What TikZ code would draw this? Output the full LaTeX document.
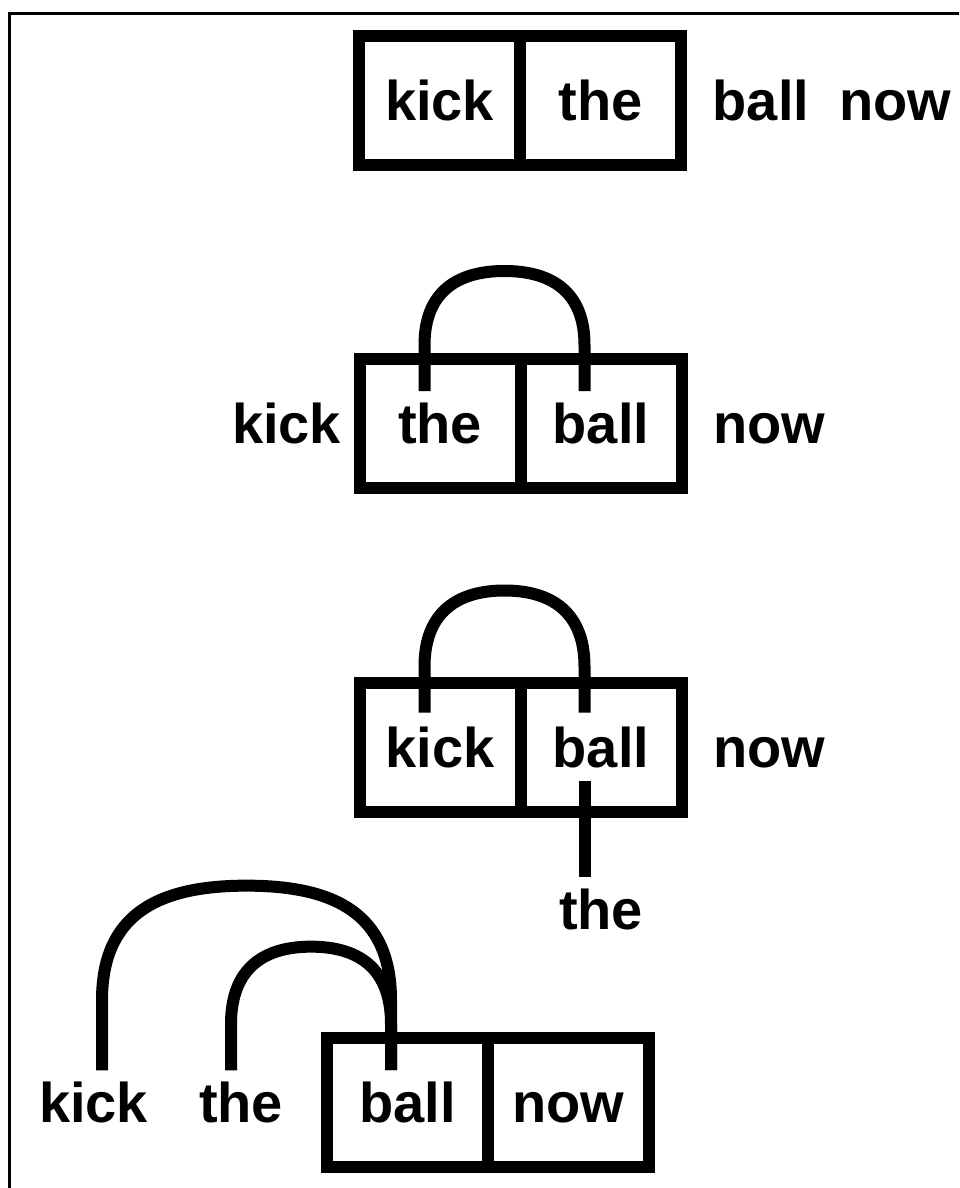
\documentclass[tikz,border=0pt]{standalone}
\usepackage{fontspec}
\setmainfont{Liberation Sans}
\usetikzlibrary{positioning,calc}

\tikzset{
    word/.style={font=\fontsize{56}{60}\selectfont\bfseries, text height=40pt, text depth=0pt, inner xsep=0pt, inner ysep=12pt},
    cell/.style={word, draw, rectangle, line width=12pt, minimum width=161pt, minimum height=129pt, inner sep=0pt, outer sep=0pt},
    link/.style={line width=12pt}
}

\begin{document}
\begin{tikzpicture}[x=1pt, y=-1pt]
    \useasboundingbox (0,0) rectangle (959,1188);
    % frame
    \draw[line width=3pt] (9.5,1188) -- (9.5,13.8) -- (959,13.8);

    % row 1
    \node (r1a) [cell] at (439.5,100.5) {kick};
    \node (r1b) [cell, right of=r1a, node distance=161pt] {the};
    \node (ball1) [word, right of=r1b, node distance=160.5pt] {ball};
    \node (now1) [word, right of=ball1, node distance=134pt] {now};

    % row 2
    \node (r2a) [cell] at (440,423.5) {the};
    \node (r2b) [cell, right of=r2a, node distance=161pt] {ball};
    \node (kick2) [word, left of=r2a, node distance=153.5pt] {kick};
    \node (now2) [word, right of=r2b, node distance=168pt] {now};
    \coordinate (s2a) at ([xshift=65pt, yshift=-32pt]r2a.north west);
    \coordinate (s2b) at ([xshift=64pt, yshift=-32pt]r2b.north west);
    \draw[link] (s2a) -- ++(0,-46) .. controls +(0,-55) and +(-45,0) .. ($(s2a)!0.5!(s2b)+(0,-120)$)
        .. controls +(45,0) and +(0,-55) .. ($(s2b)+(0,-46)$) -- (s2b);

    % row 3
    \node (r3a) [cell] at (440,747) {kick};
    \node (r3b) [cell, right of=r3a, node distance=161pt] {ball};
    \node (now3) [word, right of=r3b, node distance=168pt] {now};
    \node (the3) [word, below of=r3b, node distance=162pt] {the};
    \coordinate (s3a) at ([xshift=65pt, yshift=-30pt]r3a.north west);
    \coordinate (s3b) at ([xshift=64pt, yshift=-30pt]r3b.north west);
    \coordinate (s3c) at ([xshift=64pt, yshift=31pt]r3b.south west);
    \draw[link] (s3a) -- ++(0,-46) .. controls +(0,-56) and +(-45,0) .. ($(s3a)!0.5!(s3b)+(0,-122)$)
        .. controls +(45,0) and +(0,-56) .. ($(s3b)+(0,-46)$) -- (s3b);
    \draw[link] (s3c) -- (s3c |- the3.north);

    % row 4
    \node (r4a) [cell] at (407.5,1102.5) {ball};
    \node (r4b) [cell, right of=r4a, node distance=161pt] {now};
    \node (the4) [word, left of=r4a, node distance=166.5pt] {the};
    \node (kick4) [word, left of=the4, node distance=147.5pt] {kick};
    \coordinate (s4k) at ([xshift=8.5pt]kick4.north);
    \coordinate (s4t) at ([xshift=-10pt]the4.north);
    \coordinate (s4b) at ([xshift=64pt, yshift=-32pt]r4a.north west);
    \draw[link] (s4k) -- ++(0,-70) .. controls +(0,-85) and +(-90,0) .. ($(s4k)!0.5!(s4b)+(0,-184.5)$)
        .. controls +(90,0) and +(0,-85) .. ($(s4b)+(0,-70)$) -- (s4b);
    \draw[link] (s4t) -- ++(0,-46) .. controls +(0,-58) and +(-45,0) .. ($(s4t)!0.5!(s4b)+(0,-123.5)$)
        .. controls +(45,0) and +(0,-58) .. ($(s4b)+(0,-46)$) -- (s4b);
\end{tikzpicture}
\end{document}
